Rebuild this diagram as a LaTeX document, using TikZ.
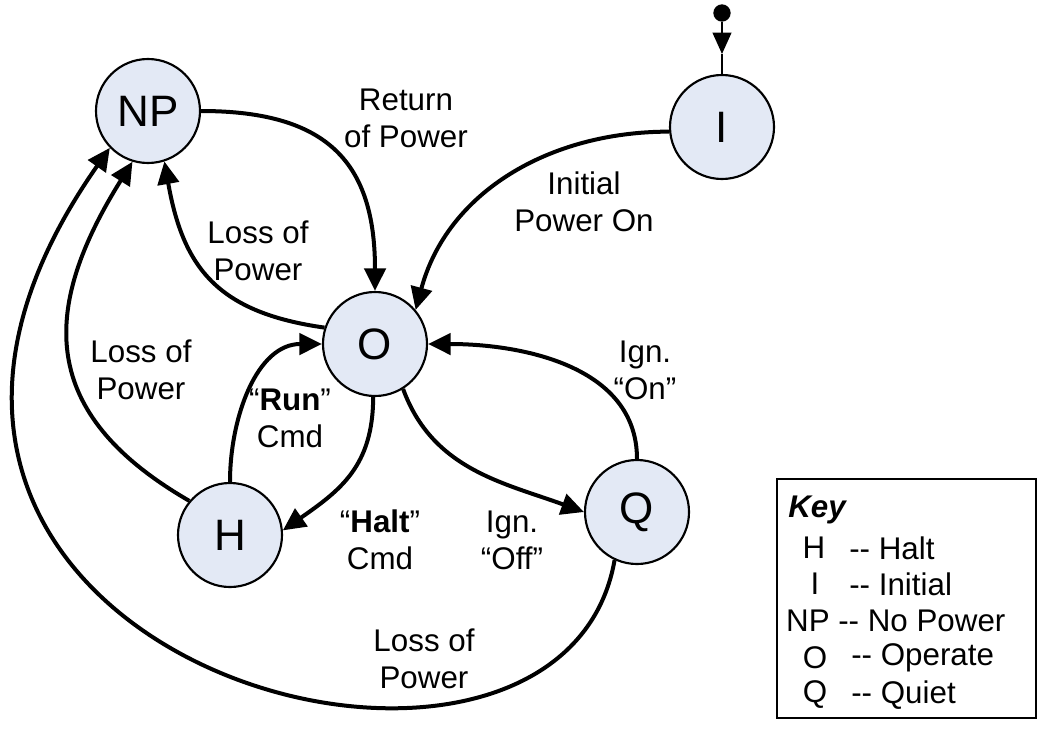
\documentclass[tikz,border=0pt]{standalone}
\usepackage{fontspec}
\setmainfont{Liberation Sans}
\usetikzlibrary{arrows.meta}
\definecolor{statefill}{RGB}{227,233,245}
\begin{document}
\begin{tikzpicture}[x=0.75pt,y=0.75pt,
  state/.style={circle,draw,line width=1.6pt,fill=statefill,minimum size=78pt,
    inner sep=0pt,font=\fontsize{33}{36}\selectfont},
  trans/.style={line width=3pt,-{Triangle[length=17pt,width=16pt]}},
  lbl/.style={align=center,inner sep=0pt,font=\fontsize{23.5}{27.75}\selectfont},
  keytxt/.style={inner sep=0pt,font=\fontsize{23.5}{26}\selectfont},
  initline/.style={line width=1.5pt}]
\useasboundingbox (0,0) rectangle (1042,-732);

% states
\node[state] (NP) at (148,-111) {NP};
\node[state] (I)  at (722,-127) {I};
\node[state] (O)  at (375,-344) {O};
\node[state] (H)  at (230,-535) {H};
\node[state] (Q)  at (637,-512) {Q};

% initial pseudo-state
\node[circle,fill,inner sep=0pt,minimum size=13pt] (start) at (722,-13) {};
\coordinate (tipI) at (722,-54);
\draw[initline,-{Triangle[length=16pt,width=14pt]}] (start) -- (tipI);
\draw[initline] (tipI) -- (I.north);

% transitions
\draw[trans] (NP.east) to[out=0,in=90,looseness=1.3] (O.north);
\draw[trans] (I.185) to[out=180,in=75] (O.40);
\draw[trans] (O.162) to[out=172,in=-80,looseness=1.2] (NP.-72);
\draw[trans] (H.140) to[out=150,in=-122,looseness=1.3] (NP.-107);
\draw[trans] (Q.-115) .. controls (559,-877) and (-248,-658) .. (NP.-136);
\draw[trans] (H.north) to[out=90,in=180] (O.west);
\draw[trans] (O.-92) to[out=-90,in=35,looseness=1.1] (H.5);
\draw[trans] (O.-58) to[out=-70,in=160] (Q.west);
\draw[trans] (Q.north) to[out=90,in=0] (O.east);

% transition labels
\node[lbl] (l1) at (406,-118) {Return\\of Power};
\node[lbl] (l2) at (584,-202) {Initial\\Power On};
\node[lbl] (l3) at (258,-251) {Loss of\\Power};
\node[lbl] (l4) at (141,-370) {Loss of\\Power};
\node[lbl] (l5) at (290,-418) {“\textbf{Run}”\\Cmd};
\node[lbl] (l6) at (380,-540) {“\textbf{Halt}”\\Cmd};
\node[lbl] (l7) at (512,-540) {Ign.\\“Off”};
\node[lbl] (l8) at (645,-370) {Ign.\\“On”};
\node[lbl] (l9) at (424,-659) {Loss of\\Power};

% key
\draw[line width=1.5pt] (777,-479) rectangle (1036,-718);
\node[keytxt,anchor=west] (kt) at (788,-510) {\bfseries\itshape Key};
\node[keytxt] (k1a) at (814,-548) {H};
\node[keytxt,anchor=west] (k1b) at (849,-548) {-{}- Halt};
\node[keytxt] (k2a) at (815,-584) {I};
\node[keytxt,anchor=west] (k2b) at (849,-584) {-{}- Initial};
\node[keytxt] (k3a) at (808,-621) {NP};
\node[keytxt,anchor=west] (k3b) at (838,-621) {-{}- No Power};
\node[keytxt] (k4a) at (815,-658) {O};
\node[keytxt,anchor=west] (k4b) at (851,-658) {-{}- Operate};
\node[keytxt] (k5a) at (815,-695) {Q};
\node[keytxt,anchor=west] (k5b) at (851,-695) {-{}- Quiet};
\end{tikzpicture}
\end{document}
